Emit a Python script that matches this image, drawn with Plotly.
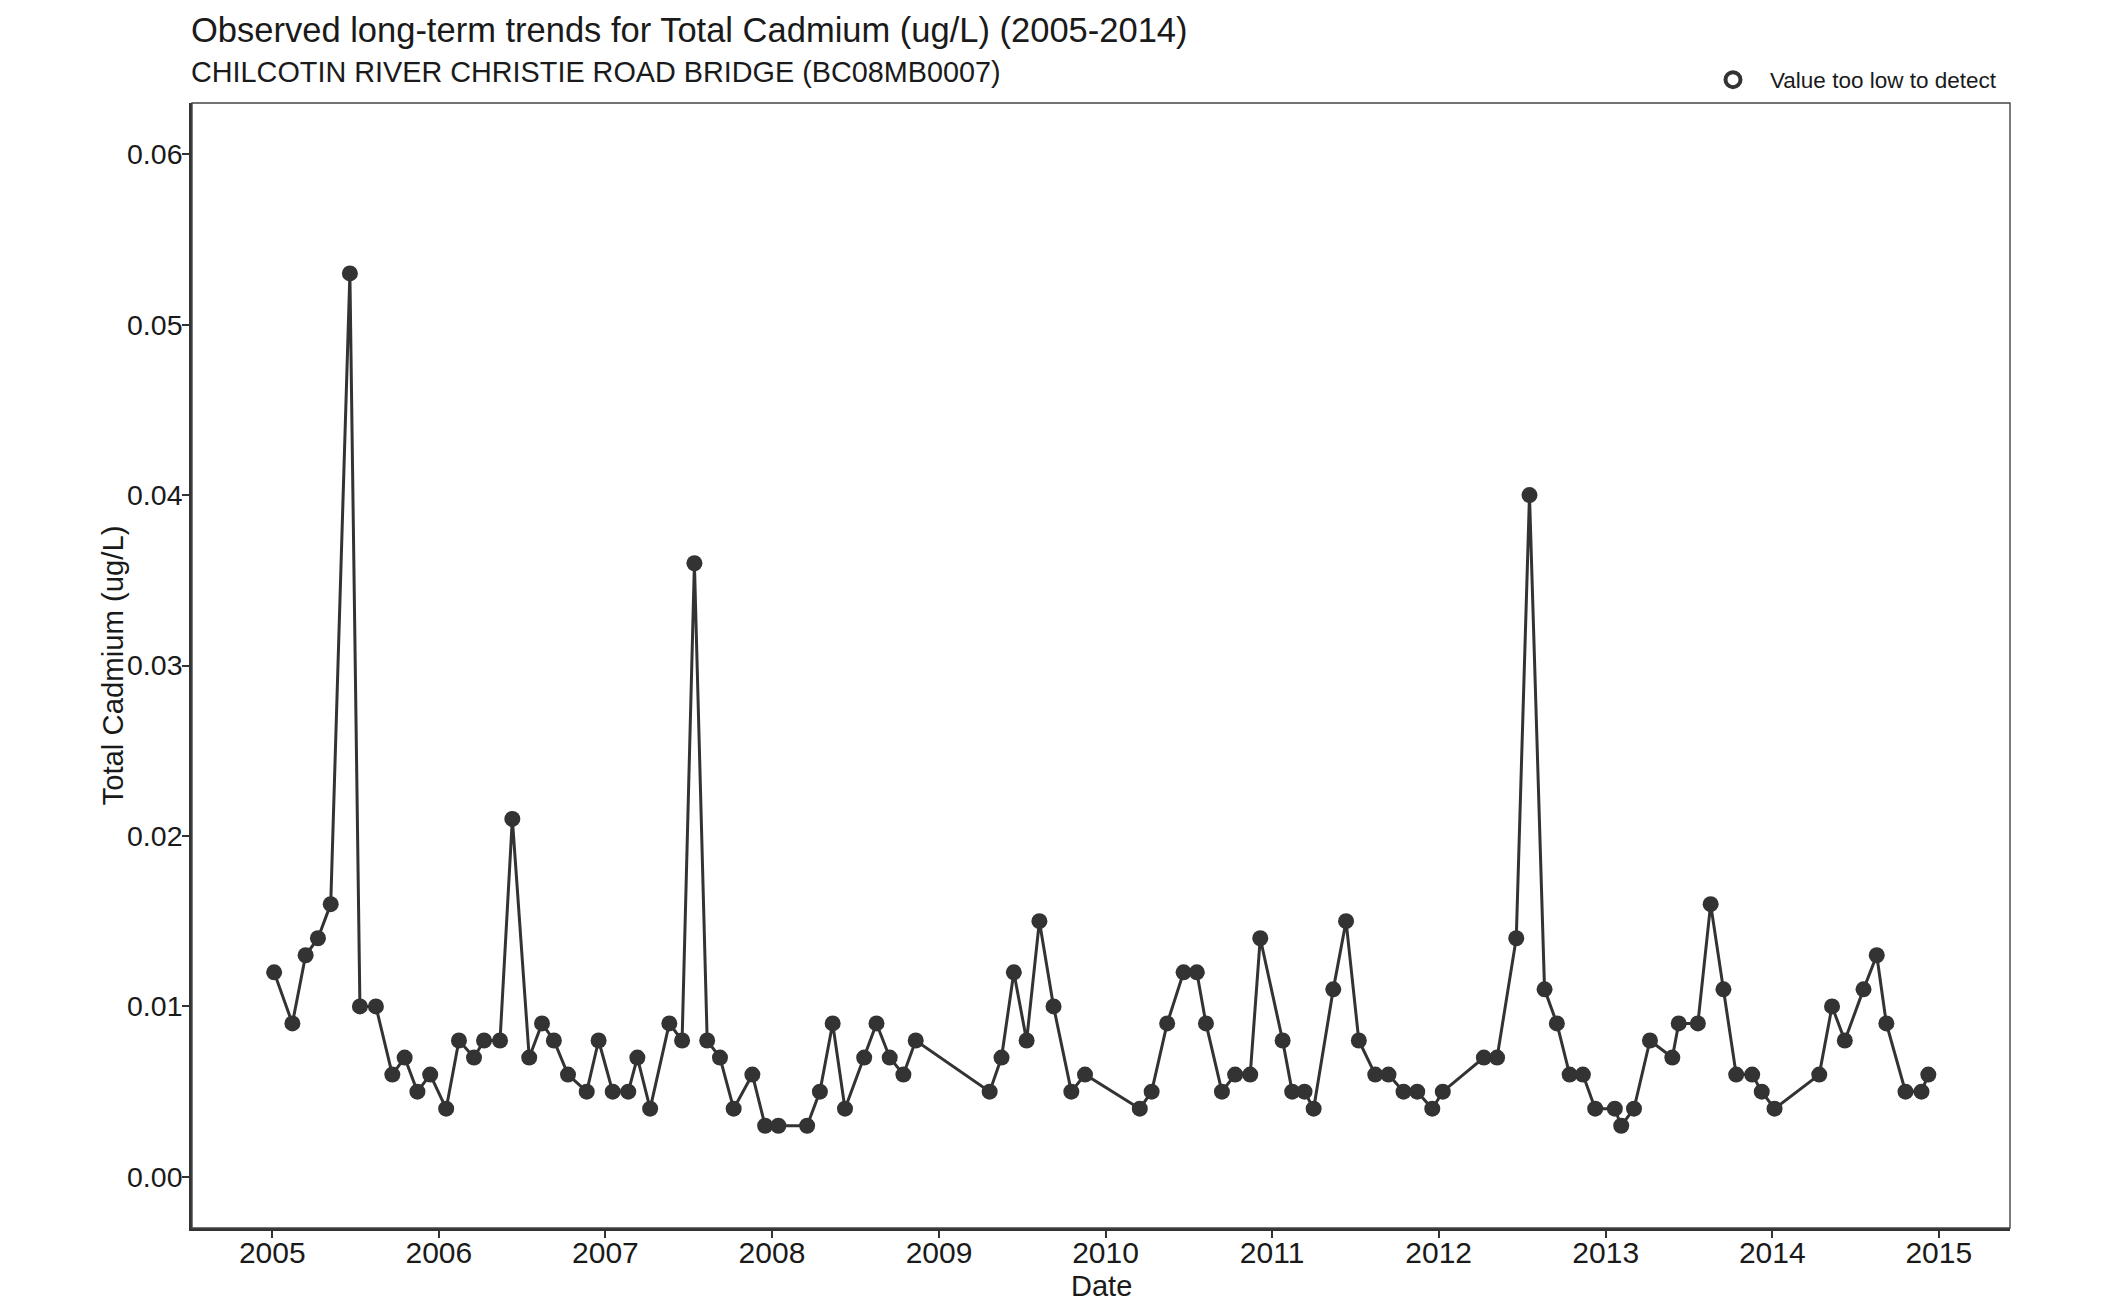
import plotly.graph_objects as go

dates = [
    "2005-01-05", "2005-02-14", "2005-03-15", "2005-04-11", "2005-05-09", "2005-06-20",
    "2005-07-12", "2005-08-16", "2005-09-21", "2005-10-18", "2005-11-15", "2005-12-13",
    "2006-01-17", "2006-02-14", "2006-03-19", "2006-04-10", "2006-05-15", "2006-06-11",
    "2006-07-18", "2006-08-15", "2006-09-10", "2006-10-11", "2006-11-21", "2006-12-17",
    "2007-01-17", "2007-02-20", "2007-03-12", "2007-04-09", "2007-05-21", "2007-06-18",
    "2007-07-15", "2007-08-12", "2007-09-09", "2007-10-09", "2007-11-19", "2007-12-17",
    "2008-01-15", "2008-03-18", "2008-04-15", "2008-05-13", "2008-06-09", "2008-07-21",
    "2008-08-17", "2008-09-15", "2008-10-15", "2008-11-11",
    "2009-04-22", "2009-05-18", "2009-06-14", "2009-07-12", "2009-08-09", "2009-09-09",
    "2009-10-18", "2009-11-17",
    "2010-03-17", "2010-04-12", "2010-05-16", "2010-06-21", "2010-07-20", "2010-08-09",
    "2010-09-13", "2010-10-12", "2010-11-14", "2010-12-06",
    "2011-01-24", "2011-02-14", "2011-03-13", "2011-04-02", "2011-05-15", "2011-06-12",
    "2011-07-10", "2011-08-15", "2011-09-13", "2011-10-16", "2011-11-15", "2011-12-18",
    "2012-01-10", "2012-04-09", "2012-05-08", "2012-06-19", "2012-07-18", "2012-08-20",
    "2012-09-16", "2012-10-14", "2012-11-12", "2012-12-09",
    "2013-01-21", "2013-02-04", "2013-03-04", "2013-04-08", "2013-05-27", "2013-06-10",
    "2013-07-22", "2013-08-19", "2013-09-16", "2013-10-14", "2013-11-18", "2013-12-09",
    "2014-01-06", "2014-04-14", "2014-05-12", "2014-06-09", "2014-07-20", "2014-08-18",
    "2014-09-08", "2014-10-20", "2014-11-24", "2014-12-09",
]

values = [
    0.012, 0.009, 0.013, 0.014, 0.016, 0.053,
    0.010, 0.010, 0.006, 0.007, 0.005, 0.006,
    0.004, 0.008, 0.007, 0.008, 0.008, 0.021,
    0.007, 0.009, 0.008, 0.006, 0.005, 0.008,
    0.005, 0.005, 0.007, 0.004, 0.009, 0.008,
    0.036, 0.008, 0.007, 0.004, 0.006, 0.003,
    0.003, 0.003, 0.005, 0.009, 0.004, 0.007,
    0.009, 0.007, 0.006, 0.008,
    0.005, 0.007, 0.012, 0.008, 0.015, 0.010,
    0.005, 0.006,
    0.004, 0.005, 0.009, 0.012, 0.012, 0.009,
    0.005, 0.006, 0.006, 0.014,
    0.008, 0.005, 0.005, 0.004, 0.011, 0.015,
    0.008, 0.006, 0.006, 0.005, 0.005, 0.004,
    0.005, 0.007, 0.007, 0.014, 0.040, 0.011,
    0.009, 0.006, 0.006, 0.004,
    0.004, 0.003, 0.004, 0.008, 0.007, 0.009,
    0.009, 0.016, 0.011, 0.006, 0.006, 0.005,
    0.004, 0.006, 0.010, 0.008, 0.011, 0.013,
    0.009, 0.005, 0.005, 0.006,
]

year_ticks = [f"{y}-01-01" for y in range(2005, 2016)]
year_labels = [str(y) for y in range(2005, 2016)]
y_ticks = [0.00, 0.01, 0.02, 0.03, 0.04, 0.05, 0.06]

title_text = "Observed long-term trends for Total Cadmium (ug/L) (2005-2014)"
subtitle_text = "CHILCOTIN RIVER CHRISTIE ROAD BRIDGE (BC08MB0007)"
legend_text = "Value too low to detect"
x_title = "Date"
y_title = "Total Cadmium (ug/L)"

FONT = "Liberation Sans, Arial, sans-serif"
DARK = "#333333"
TXT = "#1a1a1a"

W, H = 2112, 1309
# page body has an 8px offset
OFF = 8
PL, PR, PT, PB = 192, 2010, 103, 1228   # target plot box in screenshot pixels
L, T = PL - OFF, PT - OFF
R = W - (PR - OFF)
B = H - (PB - OFF)
PW, PH = PR - PL, PB - PT

fig = go.Figure()

fig.add_trace(go.Scatter(
    x=dates, y=values, mode="lines+markers",
    line=dict(color=DARK, width=3),
    marker=dict(color=DARK, size=16, line=dict(width=0)),
    showlegend=False, hoverinfo="x+y",
))

fig.add_trace(go.Scatter(
    x=[None], y=[None], mode="markers", name=legend_text,
    marker=dict(symbol="circle-open", color=DARK, size=15, line=dict(width=4, color=DARK)),
    showlegend=True,
))

fig.update_layout(
    width=W, height=H,
    margin=dict(l=L, r=R, t=T, b=B, pad=0),
    paper_bgcolor="white", plot_bgcolor="white",
    font=dict(family=FONT, color=TXT),
    showlegend=True,
    legend=dict(
        x=(1696 - PL) / PW, xanchor="left",
        y=1 + (PT - 80) / PH, yanchor="middle",
        bgcolor="rgba(0,0,0,0)", font=dict(size=22.5, family=FONT, color=TXT),
        itemsizing="trace", itemwidth=64,
    ),
    xaxis=dict(
        type="date",
        range=["2004-07-09", "2015-06-06"],
        tickvals=year_ticks, ticktext=year_labels,
        ticks="outside", ticklen=7, tickwidth=2, tickcolor=DARK,
        ticklabelstandoff=-11,
        tickfont=dict(size=30, family=FONT, color=TXT),
        showgrid=False, zeroline=False,
        showline=True, linewidth=2.6, linecolor=DARK,
    ),
    yaxis=dict(
        range=[-0.003, 0.063],
        tickvals=y_ticks, tickformat=".2f",
        ticks="outside", ticklen=7, tickwidth=2, tickcolor=DARK,
        tickfont=dict(size=28.5, family=FONT, color=TXT),
        ticklabelstandoff=-6,
        showgrid=False, zeroline=False,
        showline=True, linewidth=2.6, linecolor=DARK,
    ),
    shapes=[dict(type="rect", xref="paper", yref="paper", x0=0, x1=1, y0=0, y1=1,
                 line=dict(color="#444444", width=1.4), fillcolor="rgba(0,0,0,0)", layer="above")],
    annotations=[
        dict(text=title_text, xref="paper", yref="paper", x=0, xanchor="left", xshift=-3,
             y=1 + (PT - 30) / PH, yanchor="middle", showarrow=False,
             font=dict(size=34.5, family=FONT, color=TXT)),
        dict(text=subtitle_text, xref="paper", yref="paper", x=0, xanchor="left", xshift=-3,
             y=1 + (PT - 72) / PH, yanchor="middle", showarrow=False,
             font=dict(size=28.8, family=FONT, color=TXT)),
        dict(text=x_title, xref="paper", yref="paper", x=0.5, xanchor="center",
             y=-(1286 - PB) / PH, yanchor="middle", showarrow=False,
             font=dict(size=29, family=FONT, color=TXT)),
        dict(text=y_title, xref="paper", yref="paper", x=-(PL - 112) / PW, xanchor="center",
             y=0.5, yanchor="middle", showarrow=False, textangle=-90,
             font=dict(size=29.3, family=FONT, color=TXT)),
    ],
)

fig.write_html("out.html")
